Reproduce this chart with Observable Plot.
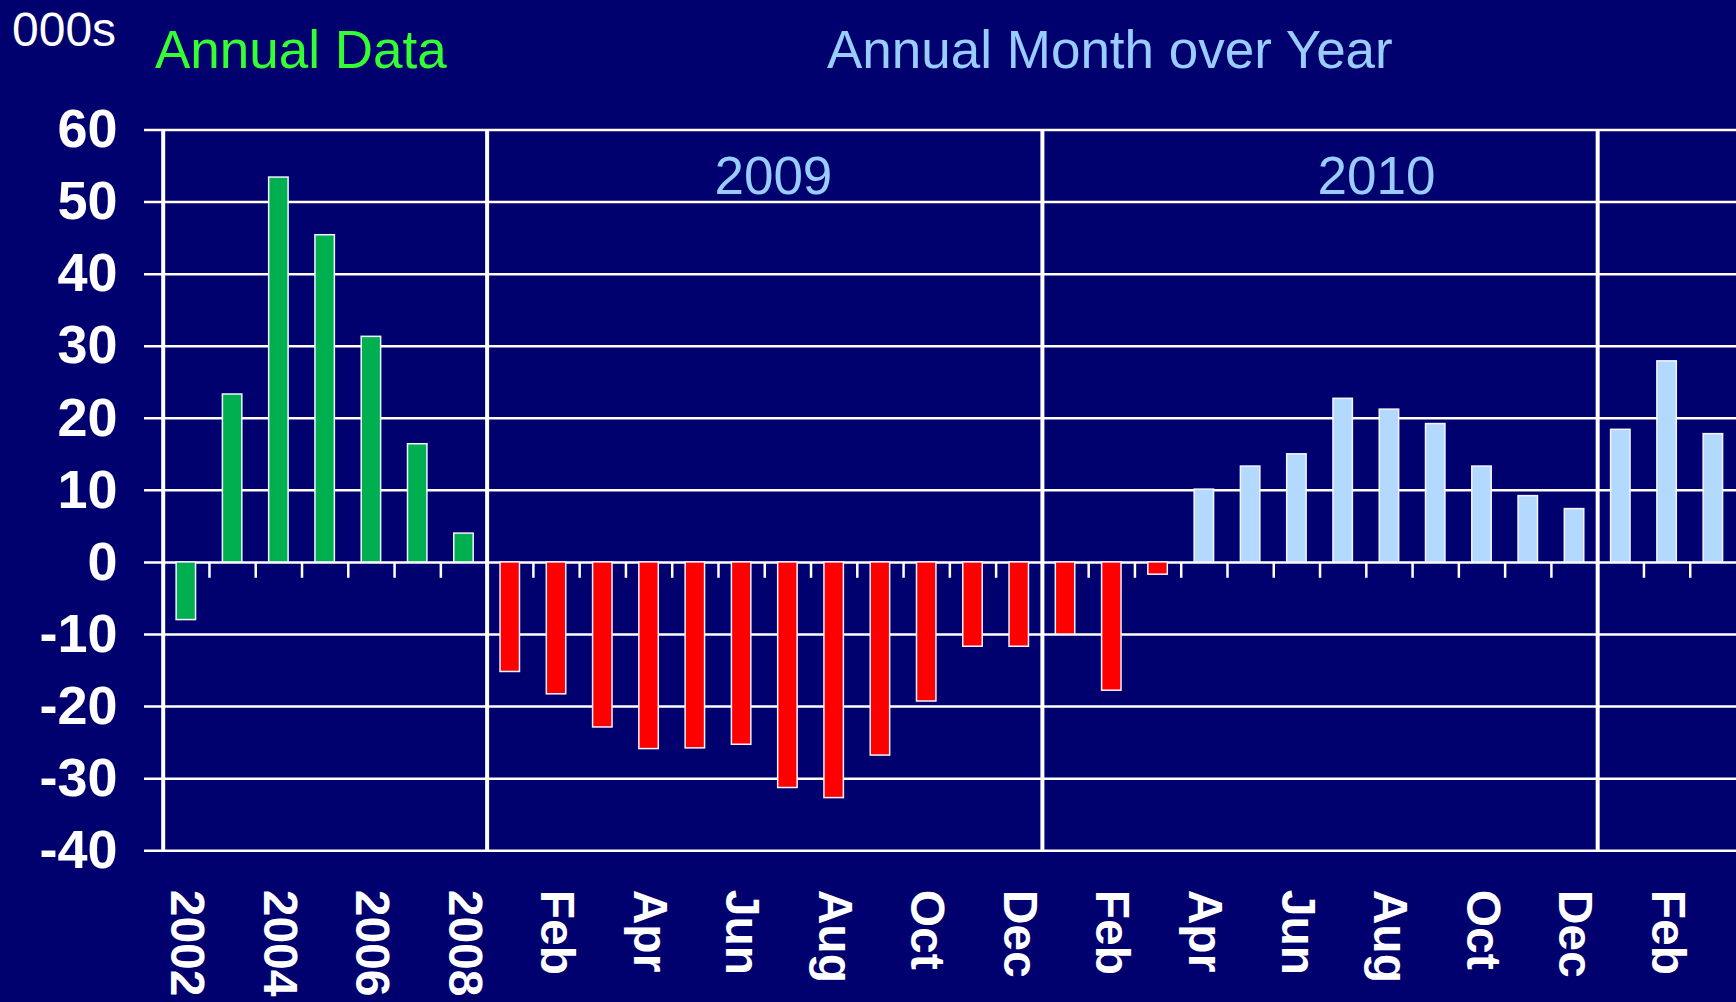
<!DOCTYPE html>
<html>
<head>
<meta charset="utf-8">
<script src="https://cdn.jsdelivr.net/npm/d3@7"></script>
<script src="https://cdn.jsdelivr.net/npm/@observablehq/plot@0.6"></script>
<style>
  html, body { margin: 0; padding: 0; background: #00006e; }
  #wrap { position: relative; width: 1736px; height: 1002px; overflow: hidden;
          font-family: "Liberation Sans", Arial, sans-serif; }
  #wrap svg { position: absolute; left: 0; top: 0; }
  .t { position: absolute; white-space: nowrap; line-height: 1; font-weight: normal; }
</style>
</head>
<body>
<div id="wrap">
  <div class="t" style="left:12px; top:6px; font-size:48px; color:#ffffff;">000s</div>
  <div class="t" style="left:155px; top:23px; font-size:53px; color:#33ff33;">Annual Data</div>
  <div class="t" style="left:827px; top:23px; font-size:53px; color:#99ccff;">Annual Month over Year</div>
</div>
<script>
// ---- data ----
const annualYears = ["2002", "2003", "2004", "2005", "2006", "2007", "2008"];
const annualValues = [-8.0, 23.3, 53.4, 45.4, 31.3, 16.4, 4.0];
const monthNames = ["Jan", "Feb", "Mar", "Apr", "May", "Jun", "Jul", "Aug", "Sep", "Oct", "Nov", "Dec"];
const values2009 = [-15.2, -18.3, -22.9, -25.9, -25.8, -25.3, -31.3, -32.7, -26.8, -19.3, -11.7, -11.7];
const values2010 = [-10.0, -17.8, -1.7, 10.1, 13.3, 15.0, 22.7, 21.2, 19.2, 13.3, 9.2, 7.4];
const values2011 = [18.4, 27.9, 17.8];
const yTicks = [-40, -30, -20, -10, 0, 10, 20, 30, 40, 50, 60];
const periodLabels = ["2009", "2010"];

// ---- build table ----
const data = [];
annualYears.forEach((yr, i) => data.push({key: yr, label: yr, value: annualValues[i], kind: "annual"}));
[["2009", values2009], ["2010", values2010], ["2011", values2011]].forEach(([yr, vals]) =>
  vals.forEach((v, i) => data.push({key: `${yr}-${monthNames[i]}`, label: monthNames[i], value: v, kind: "monthly"}))
);
const keys = data.map(d => d.key);
const labelOf = new Map(data.map((d, i) => [d.key, i % 2 === 0 ? d.label : ""]));
const separators = [keys[0], "2009-Jan", "2010-Jan", "2011-Jan"];

const W = 1736, H = 1002;
const x0 = 162.7;
const step = (W - x0) / keys.length;
const colorOf = d => d.kind === "annual" ? "#00b050" : (d.value < 0 ? "#ff0000" : "#b3d9ff");

const chart = Plot.plot({
  width: W,
  height: H,
  marginLeft: 144,
  marginRight: 0,
  marginTop: 129.5,
  marginBottom: 151.8,
  style: {background: "#00006e", color: "white", fontFamily: "'Liberation Sans', Arial, sans-serif", overflow: "visible"},
  x: {type: "band", domain: keys, range: [x0, W], paddingInner: 0.58, paddingOuter: 0.29, align: 0.5, round: false},
  y: {domain: [-40, 60]},
  marks: [
    Plot.ruleY(yTicks, {stroke: "white", strokeWidth: 2.5}),
    Plot.barY(data, {x: "key", y: "value", fill: colorOf, stroke: "#f4f4ff", strokeWidth: 1.5}),
    Plot.ruleX(keys.slice(1), {x: d => d, dx: -step / 2, y1: 0, y2: -2.2, stroke: "white", strokeWidth: 2.5}),
    Plot.ruleX(separators, {x: d => d, dx: -step / 2, y1: -40, y2: 60, stroke: "white", strokeWidth: 4}),
    Plot.axisY({ticks: yTicks, tickSize: 0, tickPadding: 27, fontSize: 54, fontWeight: "bold",
                fill: "white", tickFormat: d => String(d), label: null}),
    Plot.axisX({tickSize: 0, tickPadding: 39, tickRotate: 90, textAnchor: "start", lineAnchor: "middle",
                fontSize: 48, fontWeight: "bold", fill: "white", tickFormat: k => labelOf.get(k), label: null}),
    Plot.text([periodLabels[0]], {x: () => "2009-Jul", y: 53.5, dx: -14.5, text: d => d,
                fontSize: 53, fill: "#99ccff", textAnchor: "middle", lineAnchor: "middle"}),
    Plot.text([periodLabels[1]], {x: () => "2010-Aug", y: 53.5, dx: -13, text: d => d,
                fontSize: 53, fill: "#99ccff", textAnchor: "middle", lineAnchor: "middle"})
  ]
});
document.getElementById("wrap").prepend(chart);
</script>
</body>
</html>
